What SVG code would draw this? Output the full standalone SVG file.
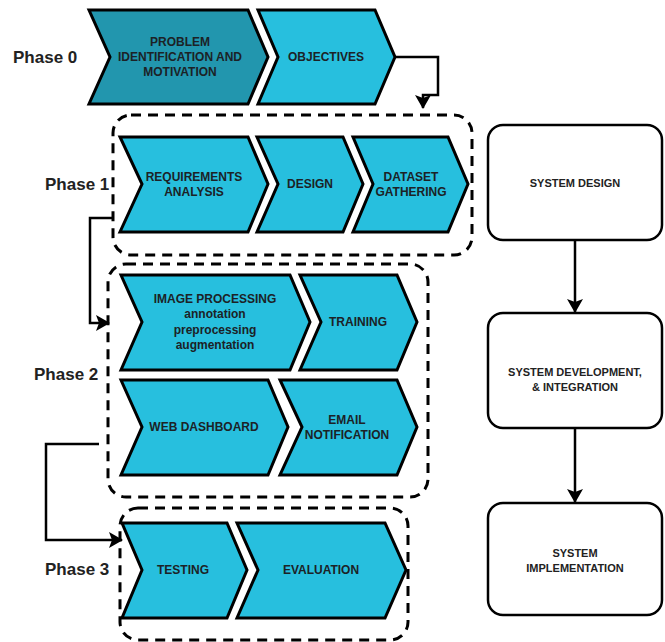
<svg xmlns="http://www.w3.org/2000/svg" width="665" height="642" viewBox="0 0 665 642">
<defs>
<style>
.ch{fill:#27BFDE;stroke:#000;stroke-width:3;stroke-linejoin:miter}
.chd{fill:#2296AE;stroke:#000;stroke-width:3}
.grp{fill:none;stroke:#000;stroke-width:3;stroke-dasharray:10 7}
.box{fill:#fff;stroke:#000;stroke-width:2.5}
.t{font-family:"Liberation Sans",Arial,sans-serif;font-size:12px;font-weight:bold;fill:#1c2226;text-anchor:middle;dominant-baseline:central}
.ts{font-family:"Liberation Sans",Arial,sans-serif;font-size:11px;font-weight:bold;fill:#222;text-anchor:middle;dominant-baseline:central}
.ph{font-family:"Liberation Sans",Arial,sans-serif;font-size:17px;font-weight:bold;fill:#222;text-anchor:start;dominant-baseline:central}
.ln{fill:none;stroke:#000;stroke-width:2.5}
</style>
<marker id="ah" viewBox="0 0 14 16" refX="13" refY="8" markerWidth="14" markerHeight="16" orient="auto" markerUnits="userSpaceOnUse">
<path d="M0,0 L14,8 L0,16 L3,8 z" fill="#000"/>
</marker>
</defs>
<rect width="665" height="642" fill="#fff"/>

<g id="labels">
<text class="ph" x="13" y="57">Phase 0</text>
<text class="ph" x="45" y="184">Phase 1</text>
<text class="ph" x="34" y="374">Phase 2</text>
<text class="ph" x="45" y="569">Phase 3</text>
</g>

<g id="phase1-group"><rect class="grp" x="113" y="115" width="359" height="140" rx="18"/></g>
<g id="phase2-group"><rect class="grp" x="108" y="264" width="320" height="233" rx="18"/></g>
<g id="phase3-group"><rect class="grp" x="120" y="508" width="288" height="132" rx="18"/></g>

<g id="connectors">
<polyline class="ln" points="395,57 438,57 438,95 423,95 423,108" marker-end="url(#ah)"/>
<polyline class="ln" points="113,218 90,218 90,323 109,323" marker-end="url(#ah)"/>
<polyline class="ln" points="99,444 46,444 46,540 122,540" marker-end="url(#ah)"/>
<line class="ln" x1="575" y1="240" x2="575" y2="312" marker-end="url(#ah)"/>
<line class="ln" x1="575" y1="428" x2="575" y2="502" marker-end="url(#ah)"/>
</g>

<g id="problem">
<polygon class="chd" points="89,10 248,10 268,57 248,104 89,104 110,57"/>
<text class="t" x="180" y="42">PROBLEM</text>
<text class="t" x="180" y="57">IDENTIFICATION AND</text>
<text class="t" x="180" y="72">MOTIVATION</text>
</g>
<g id="objectives">
<polygon class="ch" points="258,10 375,10 395,57 375,104 258,104 278,57"/>
<text class="t" x="326" y="57">OBJECTIVES</text>
</g>

<g id="requirements">
<polygon class="ch" points="120,137 248,137 268,184 248,232 120,232 142,184"/>
<text class="t" x="194" y="177">REQUIREMENTS</text>
<text class="t" x="194" y="192">ANALYSIS</text>
</g>
<g id="design">
<polygon class="ch" points="257,137 343,137 363,184 343,232 257,232 278,184"/>
<text class="t" x="310" y="184">DESIGN</text>
</g>
<g id="dataset">
<polygon class="ch" points="353,137 448,137 468,184 448,232 353,232 373,184"/>
<text class="t" x="411" y="177">DATASET</text>
<text class="t" x="411" y="192">GATHERING</text>
</g>

<g id="image-processing">
<polygon class="ch" points="121,275 290,275 310,322 290,370 121,370 142,322"/>
<text class="t" x="215" y="299">IMAGE PROCESSING</text>
<text class="t" x="215" y="314">annotation</text>
<text class="t" x="215" y="330">preprocessing</text>
<text class="t" x="215" y="345">augmentation</text>
</g>
<g id="training">
<polygon class="ch" points="300,275 397,275 417,322 397,370 300,370 321,322"/>
<text class="t" x="358" y="322">TRAINING</text>
</g>
<g id="web-dashboard">
<polygon class="ch" points="121,380 268,380 288,427 268,475 121,475 142,427"/>
<text class="t" x="204" y="427">WEB DASHBOARD</text>
</g>
<g id="email">
<polygon class="ch" points="280,380 397,380 417,427 397,475 280,475 302,427"/>
<text class="t" x="347" y="420">EMAIL</text>
<text class="t" x="347" y="435">NOTIFICATION</text>
</g>

<g id="testing">
<polygon class="ch" points="122,523 227,523 247,570 227,618 122,618 142,570"/>
<text class="t" x="183" y="570">TESTING</text>
</g>
<g id="evaluation">
<polygon class="ch" points="237,523 385,523 406,570 385,618 237,618 258,570"/>
<text class="t" x="321" y="570">EVALUATION</text>
</g>

<g id="system-design">
<rect class="box" x="488" y="125" width="174" height="115" rx="15"/>
<text class="ts" x="575" y="183">SYSTEM DESIGN</text>
</g>
<g id="system-development">
<rect class="box" x="488" y="313" width="174" height="115" rx="15"/>
<text class="ts" x="575" y="372">SYSTEM DEVELOPMENT,</text>
<text class="ts" x="575" y="387">&amp; INTEGRATION</text>
</g>
<g id="system-implementation">
<rect class="box" x="488" y="503" width="174" height="112" rx="15"/>
<text class="ts" x="575" y="553">SYSTEM</text>
<text class="ts" x="575" y="568">IMPLEMENTATION</text>
</g>
</svg>
